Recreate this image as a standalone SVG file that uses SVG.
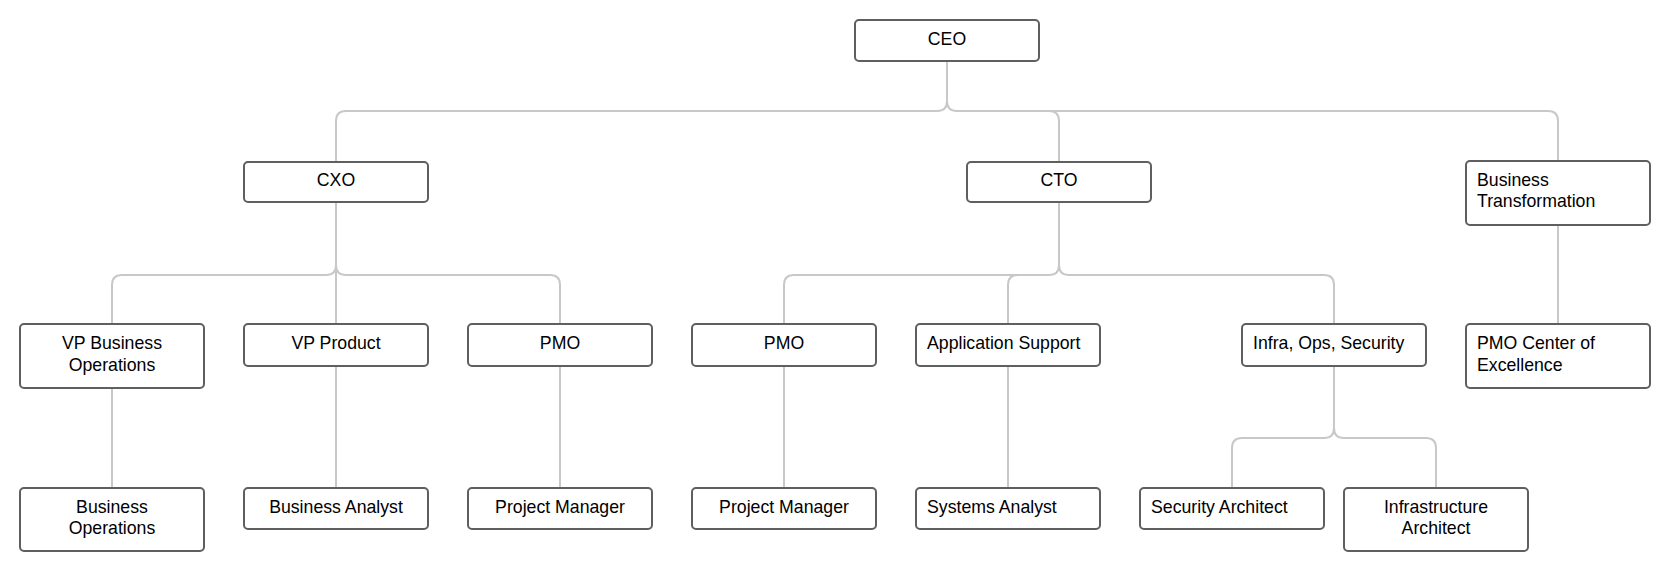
<svg xmlns="http://www.w3.org/2000/svg" width="1670" height="571" viewBox="0 0 1670 571">
<style>
.box{fill:#ffffff;stroke:#5f5f5f;stroke-width:2}
.t{font-family:"Liberation Sans",Arial,sans-serif;font-size:17.7px;fill:#000000}
.c{text-anchor:middle}
.conn path{fill:none;stroke:#c8c8c8;stroke-width:2}
</style>
<rect width="1670" height="571" fill="#ffffff"/>
<g class="conn" id="connectors">
<path d="M947,61 V101 Q947,111 937,111 H346 Q336,111 336,121 V162"/>
<path d="M947,101 Q947,111 957,111 H1049 Q1059,111 1059,121 V162"/>
<path d="M1049,111 H1548 Q1558,111 1558,121 V161"/>
<path d="M336,202 V265 Q336,275 326,275 H122 Q112,275 112,285 V324"/>
<path d="M336,265 V324"/>
<path d="M336,265 Q336,275 346,275 H550 Q560,275 560,285 V324"/>
<path d="M1059,202 V265 Q1059,275 1049,275 H794 Q784,275 784,285 V324"/>
<path d="M1028,275 H1018 Q1008,275 1008,285 V324"/>
<path d="M1059,265 Q1059,275 1069,275 H1324 Q1334,275 1334,285 V324"/>
<path d="M1558,225 V324"/>
<path d="M112,388 V488"/>
<path d="M336,366 V488"/>
<path d="M560,366 V488"/>
<path d="M784,366 V488"/>
<path d="M1008,366 V488"/>
<path d="M1334,366 V428 Q1334,438 1324,438 H1242 Q1232,438 1232,448 V488"/>
<path d="M1334,428 Q1334,438 1344,438 H1426 Q1436,438 1436,448 V488"/>
</g>
<g id="ceo"><rect class="box" x="855" y="20" width="184" height="41" rx="4"/><text class="t c" x="947" y="45">CEO</text></g>
<g id="cxo"><rect class="box" x="244" y="162" width="184" height="40" rx="4"/><text class="t c" x="336" y="186">CXO</text></g>
<g id="cto"><rect class="box" x="967" y="162" width="184" height="40" rx="4"/><text class="t c" x="1059" y="186">CTO</text></g>
<g id="bt"><rect class="box" x="1466" y="161" width="184" height="64" rx="4"/><text class="t" x="1477" y="186">Business</text><text class="t" x="1477" y="207.3">Transformation</text></g>
<g id="vpbo"><rect class="box" x="20" y="324" width="184" height="64" rx="4"/><text class="t c" x="112" y="349.3">VP Business</text><text class="t c" x="112" y="370.6">Operations</text></g>
<g id="vpp"><rect class="box" x="244" y="324" width="184" height="42" rx="4"/><text class="t c" x="336" y="349.3">VP Product</text></g>
<g id="pmo1"><rect class="box" x="468" y="324" width="184" height="42" rx="4"/><text class="t c" x="560" y="349.3">PMO</text></g>
<g id="pmo2"><rect class="box" x="692" y="324" width="184" height="42" rx="4"/><text class="t c" x="784" y="349.3">PMO</text></g>
<g id="appsup"><rect class="box" x="916" y="324" width="184" height="42" rx="4"/><text class="t" x="927" y="349.3">Application Support</text></g>
<g id="infraops"><rect class="box" x="1242" y="324" width="184" height="42" rx="4"/><text class="t" x="1253" y="349.3">Infra, Ops, Security</text></g>
<g id="pmocoe"><rect class="box" x="1466" y="324" width="184" height="64" rx="4"/><text class="t" x="1477" y="349.3">PMO Center of</text><text class="t" x="1477" y="370.6">Excellence</text></g>
<g id="bo"><rect class="box" x="20" y="488" width="184" height="63" rx="4"/><text class="t c" x="112" y="512.7">Business</text><text class="t c" x="112" y="534">Operations</text></g>
<g id="ba"><rect class="box" x="244" y="488" width="184" height="41" rx="4"/><text class="t c" x="336" y="512.7">Business Analyst</text></g>
<g id="pm1"><rect class="box" x="468" y="488" width="184" height="41" rx="4"/><text class="t c" x="560" y="512.7">Project Manager</text></g>
<g id="pm2"><rect class="box" x="692" y="488" width="184" height="41" rx="4"/><text class="t c" x="784" y="512.7">Project Manager</text></g>
<g id="sa"><rect class="box" x="916" y="488" width="184" height="41" rx="4"/><text class="t" x="927" y="512.7">Systems Analyst</text></g>
<g id="secarch"><rect class="box" x="1140" y="488" width="184" height="41" rx="4"/><text class="t" x="1151" y="512.7">Security Architect</text></g>
<g id="infraarch"><rect class="box" x="1344" y="488" width="184" height="63" rx="4"/><text class="t c" x="1436" y="512.7">Infrastructure</text><text class="t c" x="1436" y="534">Architect</text></g>
</svg>
